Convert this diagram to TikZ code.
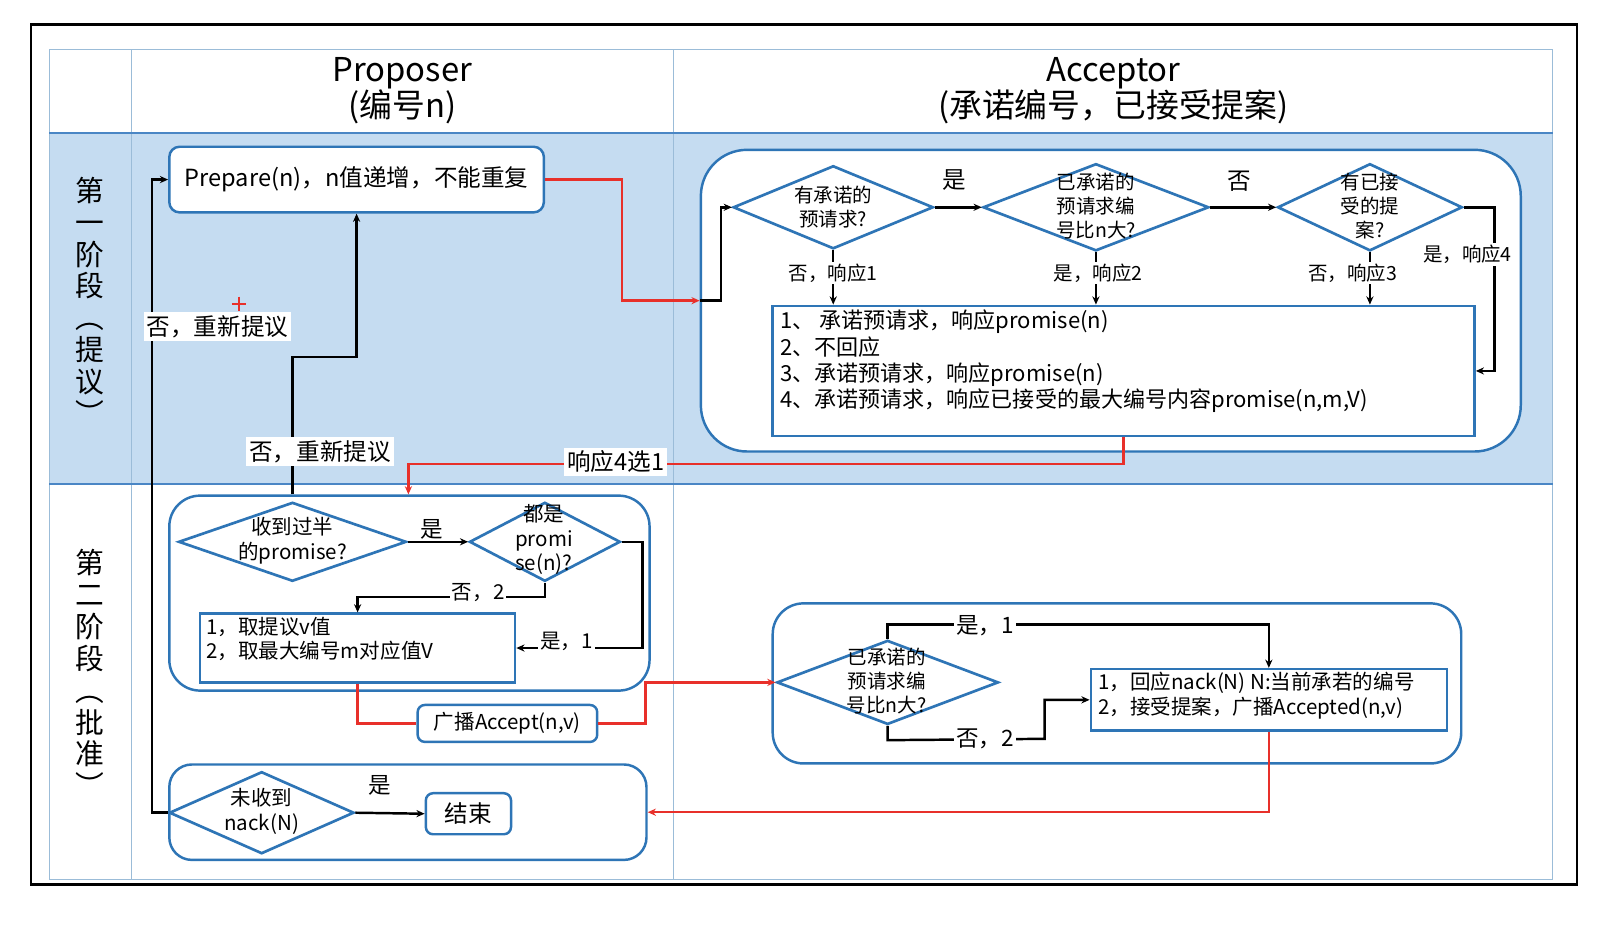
\documentclass[tikz,border=0pt]{standalone}
\usepackage{fontspec}
\setmainfont{Noto Sans CJK SC}
\usetikzlibrary{shapes.geometric,arrows.meta}
\definecolor{cblue}{HTML}{2E75B6}
\definecolor{pbg}{HTML}{C5DCF1}
\definecolor{gridc}{HTML}{9BBCD8}
\definecolor{sepc}{HTML}{4A86C5}
\definecolor{cred}{HTML}{E8302A}
\begin{document}
\begin{tikzpicture}[x=1pt,y=-1pt,
  cont/.style={rectangle, draw=cblue, line width=2.4pt, fill=white, inner sep=0pt},
  dia/.style={diamond, draw=cblue, line width=2.6pt, fill=white, inner sep=0pt, aspect=1},
  dtxt/.style={align=center, font=\fontsize{19}{23.5}\selectfont, inner sep=0pt},
  bx/.style={rectangle, draw=cblue, line width=2.4pt, fill=white, inner sep=0pt},
  btxt/.style={align=left, anchor=north west, inner sep=0pt},
  ln/.style={line width=2.4pt, black},
  ar/.style={ln, -{Stealth[length=8pt,width=7pt]}},
  rl/.style={line width=2.4pt, cred},
  rar/.style={rl, -{Stealth[length=8pt,width=7pt]}},
  lbl/.style={fill=white, inner sep=2pt, font=\fontsize{19}{23}\selectfont},
  biglbl/.style={fill=white, inner sep=3pt, font=\fontsize{23}{26}\selectfont},
  head/.style={align=center, font=\fontsize{32}{35}\selectfont, inner sep=0pt},
  vlab/.style={align=center, font=\fontsize{28}{31}\selectfont, inner sep=0pt}
]
\useasboundingbox (0,0) rectangle (1568,904);
\fill[white] (0,0) rectangle (1568,904);
% frame and table
\fill[pbg] (48,130) rectangle (1513,472);
\draw[gridc, line width=1pt] (48,48) rectangle (1513,857);
\draw[gridc, line width=1pt] (128,48) -- (128,857) (656,48) -- (656,857);
\draw[sepc, line width=1.8pt] (48,130) -- (1513,130) (48,472) -- (1513,472);
\draw[black, line width=2.2pt] (30,24) rectangle (1537,862);
% headers
\node[head] (hp) at (392,88) {Proposer\\(编号n)};
\node[head] (ha) at (1085,88) {Acceptor\\(承诺编号，已接受提案)};
\node[vlab] (v1) at (88,293) {第\\一\\阶\\段\\︵\\提\\议\\︶};
\node[vlab] (v2) at (88,656) {第\\二\\阶\\段\\︵\\批\\准\\︶};
% containers
\node[cont, rounded corners=45pt, minimum width=799pt, minimum height=294pt] (c1) at (1082.5,293) {};
\node[cont, rounded corners=30pt, minimum width=468pt, minimum height=190pt] (c2) at (399,578) {};
\node[cont, rounded corners=30pt, minimum width=671pt, minimum height=156pt] (c3) at (1088.5,666) {};
\node[cont, rounded corners=22pt, minimum width=465pt, minimum height=93pt] (c4) at (397.5,791.5) {};
% prepare
\node[cont, rounded corners=10pt, minimum width=365pt, minimum height=64pt, font=\fontsize{23}{26}\selectfont] (prep) at (347.5,175) {Prepare(n)，n值递增，不能重复};
% phase 1 acceptor
\node[dia, minimum width=195pt, minimum height=81pt] (d1) at (812,202) {};
\node[dtxt] (d1t) at (812,202) {有承诺的\\预请求?};
\node[dia, minimum width=220pt, minimum height=85pt] (d2) at (1068,202) {};
\node[dtxt] (d2t) at (1068,201) {已承诺的\\预请求编\\号比n大?};
\node[dia, minimum width=180pt, minimum height=85pt] (d3) at (1335,202) {};
\node[dtxt] (d3t) at (1335,201) {有已接\\受的提\\案?};
\node[bx, minimum width=684pt, minimum height=127pt] (rbox) at (1095,361.5) {};
\node[btxt, font=\fontsize{21.5}{25.7}\selectfont] (rtxt) at (760,302) {1、 承诺预请求，响应promise(n)\\2、不回应\\3、承诺预请求，响应promise(n)\\4、承诺预请求，响应已接受的最大编号内容promise(n,m,V)};
% phase 2 proposer
\node[dia, minimum width=222pt, minimum height=77pt] (d4) at (285,528) {};
\node[dtxt, font=\fontsize{20}{24}\selectfont] (d4t) at (285,527) {收到过半\\的promise?};
\node[dia, minimum width=147pt, minimum height=77pt] (d5) at (531,528) {};
\node[dtxt, font=\fontsize{20}{24}\selectfont] (d5t) at (530,526) {都是\\promi\\se(n)?};
\node[bx, minimum width=307pt, minimum height=67pt] (b2) at (348.5,631.5) {};
\node[btxt, font=\fontsize{20}{24}\selectfont] (b2t) at (201,601) {1，取提议v值\\2，取最大编号m对应值V};
\node[cont, rounded corners=7pt, minimum width=175pt, minimum height=36pt, font=\fontsize{20}{24}\selectfont] (acc) at (494.5,705) {广播Accept(n,v)};
% phase 2 acceptor
\node[dia, minimum width=216pt, minimum height=82pt] (d6) at (865,665) {};
\node[dtxt] (d6t) at (864,664) {已承诺的\\预请求编\\号比n大?};
\node[bx, minimum width=347pt, minimum height=60pt] (b3) at (1236.5,682) {};
\node[btxt, font=\fontsize{20}{24}\selectfont] (b3t) at (1070,655) {1，回应nack(N) N:当前承若的编号\\2，接受提案，广播Accepted(n,v)};
% phase 2 end
\node[dia, minimum width=180pt, minimum height=80pt] (d7) at (255,792) {};
\node[dtxt, font=\fontsize{20}{24}\selectfont] (d7t) at (255,791) {未收到\\nack(N)};
\node[cont, rounded corners=7pt, minimum width=83pt, minimum height=40pt, font=\fontsize{23}{26}\selectfont] (endb) at (456.5,793) {结束};
% coordinates
\coordinate (lp) at (148,175);
\coordinate (q1) at (285,348);
\coordinate (r1) at (606,175);
\coordinate (r2) at (398,452);
\coordinate (s1) at (1018,720);
% connectors
\draw[ar] (d7.west) -| (lp) -- (prep.west);
\draw[ar] (c2.north -| q1) -- (q1) -| (prep.south);
\draw[rar] (prep.east) -- (r1) |- (c1.west);
\draw[ar] (c1.west) -- ++(21,0) |- (d1.west);
\draw[ar] (d1.east) -- (d2.west);
\draw[ar] (d2.east) -- (d3.west);
\draw[ar] (d3.east) -- ++(30,0) |- (rbox.east);
\draw[ar] (d1.south) -- (d1.south |- rbox.north);
\draw[ar] (d2.south) -- (d2.south |- rbox.north);
\draw[ar] (d3.south) -- (d3.south |- rbox.north);
\draw[rar] (rbox.south) |- (r2) -- (r2 |- c2.north);
\draw[ar] (d4.east) -- (d5.west);
\draw[ar] (d5.east) -- ++(20.5,0) |- (b2.east);
\draw[ar] (d5.south) -- ++(0,14) -| (b2.north);
\draw[rl] (b2.south) |- (acc.west);
\draw[rar] (acc.east) -- ++(46,0) |- (d6.west);
\draw[ar] (d6.north) -- ++(0,-14) -| (b3.north);
\draw[ar] (d6.south) -- ++(0,14) -- (s1) |- (b3.west);
\draw[rar] (b3.south) |- (c4.east);
\draw[ar] (d7.east) -- (endb.west);
% labels
\node[biglbl] (l1) at (212,318) {否，重新提议};
\node[biglbl] (l2) at (312,440) {否，重新提议};
\node[biglbl] (l3) at (600,450) {响应4选1};
\node[font=\fontsize{23}{26}\selectfont, inner sep=0pt] (l4) at (930,175) {是};
\node[font=\fontsize{23}{26}\selectfont, inner sep=0pt] (l5) at (1208,177) {否};
\node[lbl] (l6) at (812,266) {否，响应1};
\node[lbl] (l7) at (1070,266) {是，响应2};
\node[lbl] (l8) at (1318,266) {否，响应3};
\node[lbl] (l9) at (1430,248) {是，响应4};
\node[lbl, font=\fontsize{22}{24}\selectfont] (l10) at (421,516) {是};
\node[lbl, font=\fontsize{20}{24}\selectfont] (l11) at (466,577) {否，2};
\node[lbl, font=\fontsize{20}{24}\selectfont] (l12) at (552,625) {是，1};
\node[lbl, font=\fontsize{22}{24}\selectfont] (l13) at (960,610) {是，1};
\node[lbl, font=\fontsize{22}{24}\selectfont] (l14) at (960,720) {否，2};
\node[font=\fontsize{22}{24}\selectfont, inner sep=0pt] (l15) at (370,765) {是};
% cursor mark
\draw[cred, line width=2pt] (226,296) -- (240,296) (233,289) -- (233,303);
\end{tikzpicture}
\end{document}
